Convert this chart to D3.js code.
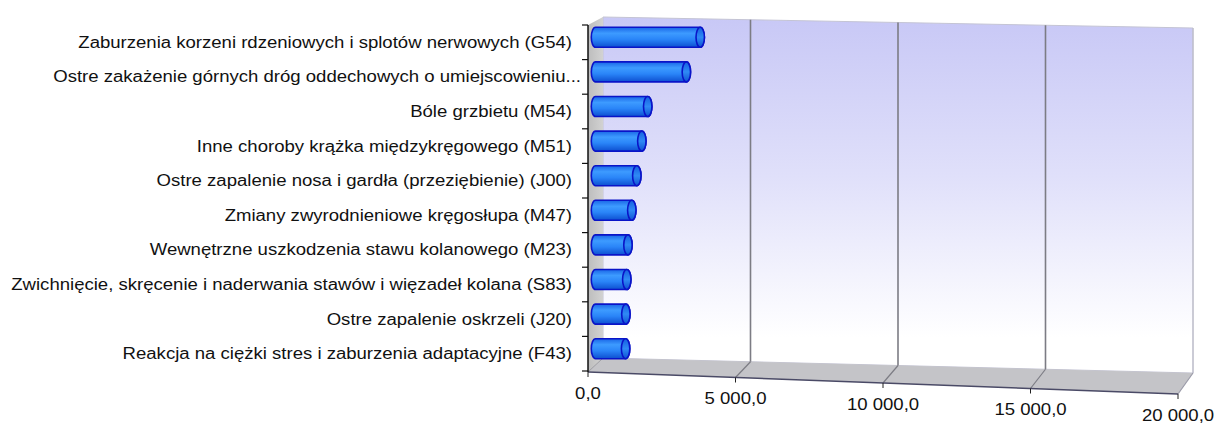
<!DOCTYPE html>
<html><head><meta charset="utf-8">
<script src="https://cdn.jsdelivr.net/npm/d3@7"></script>
<style>html,body{margin:0;padding:0;background:#fff;}svg{display:block;}</style>
</head><body>
<svg id="chart" width="1216" height="424"></svg>
<script>
const categories = [
  "Zaburzenia korzeni rdzeniowych i splotów nerwowych (G54)",
  "Ostre zakażenie górnych dróg oddechowych o umiejscowieniu...",
  "Bóle grzbietu (M54)",
  "Inne choroby krążka międzykręgowego (M51)",
  "Ostre zapalenie nosa i gardła (przeziębienie) (J00)",
  "Zmiany zwyrodnieniowe kręgosłupa (M47)",
  "Wewnętrzne uszkodzenia stawu kolanowego (M23)",
  "Zwichnięcie, skręcenie i naderwania stawów i więzadeł kolana (S83)",
  "Ostre zapalenie oskrzeli (J20)",
  "Reakcja na ciężki stres i zaburzenia adaptacyjne (F43)"
];
const values = [3550, 3080, 1770, 1570, 1400, 1230, 1100, 1060, 1030, 1020];
const xTicks = [0, 5000, 10000, 15000, 20000];
const xTickLabels = ["0,0", "5 000,0", "10 000,0", "15 000,0", "20 000,0"];

const svg = d3.select("#chart");
const defs = svg.append("defs");
const FONT = "'Liberation Sans', Arial, sans-serif";
const STRETCH = 1.16;

// 3D geometry (front edge, back wall)
const xFront = d3.scaleLinear().domain([0, 20000]).range([588, 1178]);
const xBack  = d3.scaleLinear().domain([0, 20000]).range([603, 1193]);
const xMid   = d3.scaleLinear().domain([0, 20000]).range([595.5, 1185.5]);
const yFront = d3.scaleLinear().domain([0, 20000]).range([372, 394]);
const yBackBottom = d3.scaleLinear().domain([0, 20000]).range([358, 373]);
const yBackTop = d3.scaleLinear().domain([0, 20000]).range([17, 28]);
const yBand = d3.scaleBand().domain(categories).range([25, 371]).padding(0);

// back wall gradient
const bg = defs.append("linearGradient").attr("id","wallGrad").attr("x1",0).attr("y1",0).attr("x2",0).attr("y2",1);
bg.append("stop").attr("offset","0%").attr("stop-color","#c8c8f6");
bg.append("stop").attr("offset","45%").attr("stop-color","#e0e0fa");
bg.append("stop").attr("offset","90%").attr("stop-color","#ffffff");

const side = defs.append("linearGradient").attr("id","sideGrad").attr("x1",0).attr("y1",0).attr("x2",1).attr("y2",0);
side.append("stop").attr("offset","0%").attr("stop-color","#bdbdbd");
side.append("stop").attr("offset","100%").attr("stop-color","#d2d2d2");

const cyl = defs.append("linearGradient").attr("id","cylGrad").attr("x1",0).attr("y1",0).attr("x2",0).attr("y2",1);
cyl.append("stop").attr("offset","0%").attr("stop-color","#1a66e6");
cyl.append("stop").attr("offset","30%").attr("stop-color","#3d9bff");
cyl.append("stop").attr("offset","60%").attr("stop-color","#2a85f8");
cyl.append("stop").attr("offset","100%").attr("stop-color","#0d4fd0");

const capG = defs.append("linearGradient").attr("id","capGrad").attr("x1",0).attr("y1",0).attr("x2",0).attr("y2",1);
capG.append("stop").attr("offset","0%").attr("stop-color","#1560e0");
capG.append("stop").attr("offset","50%").attr("stop-color","#2f8af5");
capG.append("stop").attr("offset","100%").attr("stop-color","#0f52d2");

// back wall
const wallPts = [
  [xBack(0), yBackTop(0)], [xBack(20000), yBackTop(20000)],
  [xBack(20000), yBackBottom(20000)], [xBack(0), yBackBottom(0)]
];
svg.append("path").attr("d", d3.line()(wallPts) + "Z")
  .attr("fill","url(#wallGrad)").attr("stroke","#c4c4d4").attr("stroke-width",1);

// side wall (left)
const sidePts = [
  [xFront(0), 25], [xBack(0), yBackTop(0)],
  [xBack(0), yBackBottom(0)], [xFront(0), yFront(0)]
];
svg.append("path").attr("d", d3.line()(sidePts) + "Z")
  .attr("fill","url(#sideGrad)").attr("stroke","none");

// floor
const floorPts = [
  [xBack(0), yBackBottom(0)], [xBack(20000), yBackBottom(20000)],
  [xFront(20000), yFront(20000)], [xFront(0), yFront(0)]
];
svg.append("path").attr("d", d3.line()(floorPts) + "Z")
  .attr("fill","#c4c4c8").attr("stroke","none");

// gridlines on back wall and floor
const grid = svg.append("g");
xTicks.filter(t => t > 0 && t < 20000).forEach(t => {
  grid.append("line").attr("x1", xBack(t)).attr("y1", yBackTop(t))
    .attr("x2", xBack(t)).attr("y2", yBackBottom(t))
    .attr("stroke","#7c7c84").attr("stroke-width",1.6);
  grid.append("line").attr("x1", xBack(t)).attr("y1", yBackBottom(t))
    .attr("x2", xFront(t)).attr("y2", yFront(t))
    .attr("stroke","#7c7c84").attr("stroke-width",1.2);
});
// right edge
svg.append("line").attr("x1", xBack(20000)).attr("y1", yBackTop(20000))
  .attr("x2", xBack(20000)).attr("y2", yBackBottom(20000))
  .attr("stroke","#bdbdc8").attr("stroke-width",1.2);
svg.append("line").attr("x1", xBack(20000)).attr("y1", yBackBottom(20000))
  .attr("x2", xFront(20000)).attr("y2", yFront(20000))
  .attr("stroke","#9a9aa8").attr("stroke-width",1.2);
svg.append("line").attr("x1", xBack(0)).attr("y1", yBackBottom(0))
  .attr("x2", xFront(0)).attr("y2", yFront(0))
  .attr("stroke","#9a9aa0").attr("stroke-width",1);

// front axis line
svg.append("line").attr("x1", xFront(0)).attr("y1", yFront(0))
  .attr("x2", xFront(20000)).attr("y2", yFront(20000))
  .attr("stroke","#4a4a66").attr("stroke-width",1.5);
// x ticks
xTicks.forEach((t, i) => {
  svg.append("line").attr("x1", xFront(t)).attr("y1", yFront(t))
    .attr("x2", xFront(t)).attr("y2", yFront(t) + 5)
    .attr("stroke","#222").attr("stroke-width",1);
  svg.append("text")
    .attr("transform", `translate(${xFront(t)},${yFront(t) + 21}) scale(${STRETCH},1)`)
    .attr("text-anchor","middle").attr("dominant-baseline","central")
    .attr("font-family", FONT)
    .attr("font-size", 16).attr("fill","#111").text(xTickLabels[i]);
});

// category labels (truncated ones overflow toward the axis, as in the original)
svg.append("g").selectAll("text").data(categories).join("text")
  .attr("transform", d => `translate(${d.endsWith("...") ? 581 : 572},${yBand(d) + yBand.bandwidth()/2}) scale(${STRETCH},1)`)
  .attr("text-anchor","end").attr("dominant-baseline","central")
  .attr("font-family", FONT)
  .attr("font-size", 16).attr("fill","#111").text(d => d);

// vertical axis
svg.append("line").attr("x1", xFront(0)).attr("y1", 25)
  .attr("x2", xFront(0)).attr("y2", yFront(0))
  .attr("stroke","#111").attr("stroke-width",1.5);
const bounds = categories.map(c => yBand(c)).concat([yBand.range()[1]]);
bounds.forEach(y => {
  svg.append("line").attr("x1", xFront(0) - 6).attr("y1", y)
    .attr("x2", xFront(0)).attr("y2", y)
    .attr("stroke","#111").attr("stroke-width",1.2);
});

// cylinders
const h = 20, rx = 4.2;
const bars = svg.append("g");
categories.forEach((c, i) => {
  const cy = yBand(c) + yBand.bandwidth()/2 - 5;
  const x0 = xMid(0), x1 = xMid(values[i]);
  const top = cy - h/2, bot = cy + h/2;
  const body = `M${x1},${top} L${x0},${top} A${rx},${h/2} 0 0 0 ${x0},${bot} L${x1},${bot} A${rx},${h/2} 0 0 0 ${x1},${top} Z`;
  bars.append("path").attr("d", body).attr("fill","url(#cylGrad)")
    .attr("stroke","#0a14c8").attr("stroke-width",1.6);
  bars.append("ellipse").attr("cx", x1).attr("cy", cy).attr("rx", rx).attr("ry", h/2)
    .attr("fill","url(#capGrad)").attr("stroke","#0a14c8").attr("stroke-width",1.6);
});
</script>
</body></html>
